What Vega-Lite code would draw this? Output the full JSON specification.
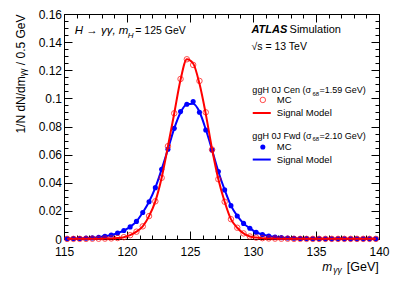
{
  "$schema": "https://vega.github.io/schema/vega-lite/v6.json",
  "width": 315,
  "height": 225,
  "autosize": "none",
  "padding": {"left": 64, "top": 14, "right": 20, "bottom": 47},
  "background": "white",
  "config": {
    "view": {"stroke": null},
    "font": "Liberation Sans",
    "axis": {
      "grid": false, "domainColor": "#000", "tickColor": "#000", "labelColor": "#000", "titleColor": "#000",
      "labelFont": "Liberation Sans", "titleFont": "Liberation Sans", "labelFontSize": 12, "titleFontSize": 12,
      "titleFontWeight": "normal", "domainWidth": 1, "tickWidth": 1, "labelFlush": false, "labelOverlap": false, "labelBound": false
    },
    "text": {"font": "Liberation Sans", "color": "#000"}
  },
  "datasets": {
    "cen": [
      {"m": 115.25, "mc": 0.0001, "model": 0.0001}, {"m": 115.75, "mc": 0.0001, "model": 0.0001},
      {"m": 116.25, "mc": 0.0001, "model": 0.0001}, {"m": 116.75, "mc": 0.0001, "model": 0.0001},
      {"m": 117.25, "mc": 0.0002, "model": 0.0002}, {"m": 117.75, "mc": 0.0002, "model": 0.0002},
      {"m": 118.25, "mc": 0.0003, "model": 0.0003}, {"m": 118.75, "mc": 0.0004, "model": 0.0004},
      {"m": 119.25, "mc": 0.0007, "model": 0.0007}, {"m": 119.75, "mc": 0.0013, "model": 0.0013},
      {"m": 120.25, "mc": 0.0027, "model": 0.0027}, {"m": 120.75, "mc": 0.0052, "model": 0.0052},
      {"m": 121.25, "mc": 0.0090, "model": 0.0090}, {"m": 121.75, "mc": 0.0163, "model": 0.0163},
      {"m": 122.25, "mc": 0.0268, "model": 0.0268}, {"m": 122.75, "mc": 0.0435, "model": 0.0435},
      {"m": 123.25, "mc": 0.0660, "model": 0.0660}, {"m": 123.75, "mc": 0.0894, "model": 0.0894},
      {"m": 124.25, "mc": 0.1138, "model": 0.1132}, {"m": 124.75, "mc": 0.1278, "model": 0.1278},
      {"m": 125.25, "mc": 0.1238, "model": 0.1248}, {"m": 125.75, "mc": 0.1124, "model": 0.1105},
      {"m": 126.25, "mc": 0.0901, "model": 0.0890}, {"m": 126.75, "mc": 0.0636, "model": 0.0640},
      {"m": 127.25, "mc": 0.0425, "model": 0.0425}, {"m": 127.75, "mc": 0.0265, "model": 0.0265},
      {"m": 128.25, "mc": 0.0141, "model": 0.0141}, {"m": 128.75, "mc": 0.0080, "model": 0.0080},
      {"m": 129.25, "mc": 0.0040, "model": 0.0040}, {"m": 129.75, "mc": 0.0018, "model": 0.0018},
      {"m": 130.25, "mc": 0.0010, "model": 0.0010}, {"m": 130.75, "mc": 0.0006, "model": 0.0006},
      {"m": 131.25, "mc": 0.0004, "model": 0.0004}, {"m": 131.75, "mc": 0.0003, "model": 0.0003},
      {"m": 132.25, "mc": 0.0002, "model": 0.0002}, {"m": 132.75, "mc": 0.0002, "model": 0.0002},
      {"m": 133.25, "mc": 0.0001, "model": 0.0001}, {"m": 133.75, "mc": 0.0001, "model": 0.0001},
      {"m": 134.25, "mc": 0.0001, "model": 0.0001}, {"m": 134.75, "mc": 0.0001, "model": 0.0001},
      {"m": 135.25, "mc": 0.0001, "model": 0.0001}, {"m": 135.75, "mc": 0.0001, "model": 0.0001},
      {"m": 136.25, "mc": 0.0001, "model": 0.0001}, {"m": 136.75, "mc": 0.0001, "model": 0.0001},
      {"m": 137.25, "mc": 0.0001, "model": 0.0001}, {"m": 137.75, "mc": 0.0001, "model": 0.0001},
      {"m": 138.25, "mc": 0.0001, "model": 0.0001}, {"m": 138.75, "mc": 0.0001, "model": 0.0001},
      {"m": 139.25, "mc": 0.0001, "model": 0.0001}, {"m": 139.75, "mc": 0.0001, "model": 0.0001}
    ],
    "fwd": [
      {"m": 115.25, "mc": 0.0002, "model": 0.0002}, {"m": 115.75, "mc": 0.0003, "model": 0.0003},
      {"m": 116.25, "mc": 0.0004, "model": 0.0004}, {"m": 116.75, "mc": 0.0006, "model": 0.0006},
      {"m": 117.25, "mc": 0.0008, "model": 0.0008}, {"m": 117.75, "mc": 0.0012, "model": 0.0012},
      {"m": 118.25, "mc": 0.0019, "model": 0.0019}, {"m": 118.75, "mc": 0.0028, "model": 0.0028},
      {"m": 119.25, "mc": 0.0042, "model": 0.0042}, {"m": 119.75, "mc": 0.0060, "model": 0.0060},
      {"m": 120.25, "mc": 0.0086, "model": 0.0086}, {"m": 120.75, "mc": 0.0125, "model": 0.0125},
      {"m": 121.25, "mc": 0.0188, "model": 0.0188}, {"m": 121.75, "mc": 0.0265, "model": 0.0265},
      {"m": 122.25, "mc": 0.0365, "model": 0.0365}, {"m": 122.75, "mc": 0.0496, "model": 0.0496},
      {"m": 123.25, "mc": 0.0638, "model": 0.0638}, {"m": 123.75, "mc": 0.0787, "model": 0.0787},
      {"m": 124.25, "mc": 0.0906, "model": 0.0900}, {"m": 124.75, "mc": 0.0958, "model": 0.0958},
      {"m": 125.25, "mc": 0.0977, "model": 0.0962}, {"m": 125.75, "mc": 0.0901, "model": 0.0905},
      {"m": 126.25, "mc": 0.0775, "model": 0.0780}, {"m": 126.75, "mc": 0.0633, "model": 0.0633},
      {"m": 127.25, "mc": 0.0480, "model": 0.0480}, {"m": 127.75, "mc": 0.0349, "model": 0.0349},
      {"m": 128.25, "mc": 0.0237, "model": 0.0237}, {"m": 128.75, "mc": 0.0164, "model": 0.0164},
      {"m": 129.25, "mc": 0.0111, "model": 0.0111}, {"m": 129.75, "mc": 0.0076, "model": 0.0076},
      {"m": 130.25, "mc": 0.0048, "model": 0.0048}, {"m": 130.75, "mc": 0.0032, "model": 0.0032},
      {"m": 131.25, "mc": 0.0021, "model": 0.0021}, {"m": 131.75, "mc": 0.0014, "model": 0.0014},
      {"m": 132.25, "mc": 0.0010, "model": 0.0010}, {"m": 132.75, "mc": 0.0007, "model": 0.0007},
      {"m": 133.25, "mc": 0.0005, "model": 0.0005}, {"m": 133.75, "mc": 0.0004, "model": 0.0004},
      {"m": 134.25, "mc": 0.0003, "model": 0.0003}, {"m": 134.75, "mc": 0.0002, "model": 0.0002},
      {"m": 135.25, "mc": 0.0002, "model": 0.0002}, {"m": 135.75, "mc": 0.0001, "model": 0.0001},
      {"m": 136.25, "mc": 0.0001, "model": 0.0001}, {"m": 136.75, "mc": 0.0001, "model": 0.0001},
      {"m": 137.25, "mc": 0.0001, "model": 0.0001}, {"m": 137.75, "mc": 0.0001, "model": 0.0001},
      {"m": 138.25, "mc": 0.0001, "model": 0.0001}, {"m": 138.75, "mc": 0.0001, "model": 0.0001},
      {"m": 139.25, "mc": 0.0001, "model": 0.0001}, {"m": 139.75, "mc": 0.0001, "model": 0.0001}
    ]
  },
  "layer": [
    {
      "data": {"name": "fwd"},
      "mark": {"type": "line", "color": "#0000ff", "strokeWidth": 2, "interpolate": "monotone"},
      "encoding": {
        "x": {"field": "m", "type": "quantitative", "scale": {"domain": [115, 140], "nice": false, "zero": false},
          "axis": {"orient": "bottom", "values": [115, 120, 125, 130, 135, 140], "tickSize": -8, "labelPadding": 15.5, "title": null}},
        "y": {"field": "model", "type": "quantitative", "scale": {"domain": [0, 0.16], "nice": false, "zero": false},
          "axis": {"orient": "left", "values": [0, 0.02, 0.04, 0.06, 0.08, 0.1, 0.12, 0.14, 0.16], "format": "~g", "tickSize": -8, "labelPadding": 10.5,
            "title": "1/N dN/dmᵧᵧ / 0.5 GeV", "titleX": -44, "titleY": 0, "titleAngle": 270, "titleAlign": "right", "titleBaseline": "middle"}}
      }
    },
    {
      "data": {"name": "fwd"},
      "mark": {"type": "circle", "color": "#0000ff", "size": 26, "opacity": 1},
      "encoding": {
        "x": {"field": "m", "type": "quantitative",
          "axis": {"orient": "bottom", "values": [115,116,117,118,119,120,121,122,123,124,125,126,127,128,129,130,131,132,133,134,135,136,137,138,139,140], "tickSize": -4, "labels": false, "domain": false, "title": null}},
        "y": {"field": "mc", "type": "quantitative",
          "axis": {"orient": "left", "values": [0,0.005,0.01,0.015,0.02,0.025,0.03,0.035,0.04,0.045,0.05,0.055,0.06,0.065,0.07,0.075,0.08,0.085,0.09,0.095,0.1,0.105,0.11,0.115,0.12,0.125,0.13,0.135,0.14,0.145,0.15,0.155,0.16], "tickSize": -4, "labels": false, "domain": false, "title": null}}
      }
    },
    {
      "data": {"name": "cen"},
      "mark": {"type": "line", "color": "#ff0000", "strokeWidth": 2, "interpolate": "monotone"},
      "encoding": {
        "x": {"field": "m", "type": "quantitative",
          "axis": {"orient": "top", "values": [115, 120, 125, 130, 135, 140], "tickSize": -8, "labels": false, "title": null}},
        "y": {"field": "model", "type": "quantitative",
          "axis": {"orient": "right", "values": [0, 0.02, 0.04, 0.06, 0.08, 0.1, 0.12, 0.14, 0.16], "tickSize": -8, "labels": false, "title": null}}
      }
    },
    {
      "data": {"name": "cen"},
      "mark": {"type": "point", "shape": "circle", "filled": false, "stroke": "#ff0000", "strokeWidth": 1, "size": 30},
      "encoding": {
        "x": {"field": "m", "type": "quantitative",
          "axis": {"orient": "top", "values": [115,116,117,118,119,120,121,122,123,124,125,126,127,128,129,130,131,132,133,134,135,136,137,138,139,140], "tickSize": -4, "labels": false, "domain": false, "title": null}},
        "y": {"field": "mc", "type": "quantitative",
          "axis": {"orient": "right", "values": [0,0.005,0.01,0.015,0.02,0.025,0.03,0.035,0.04,0.045,0.05,0.055,0.06,0.065,0.07,0.075,0.08,0.085,0.09,0.095,0.1,0.105,0.11,0.115,0.12,0.125,0.13,0.135,0.14,0.145,0.15,0.155,0.16], "tickSize": -4, "labels": false, "domain": false, "title": null}}
      }
    },
    {
      "data": {"values": [{}]},
      "mark": {"type": "text", "text": "m", "fontStyle": "italic", "fontSize": 12, "align": "left", "baseline": "middle"},
      "encoding": {"x": {"datum": 135.5, "type": "quantitative", "axis": null}, "y": {"datum": -0.0196, "type": "quantitative", "axis": null}}
    },
    {
      "data": {"values": [{}]},
      "mark": {"type": "text", "text": "γγ", "fontStyle": "italic", "fontSize": 8.5, "align": "left", "baseline": "middle"},
      "encoding": {"x": {"datum": 136.37, "type": "quantitative", "axis": null}, "y": {"datum": -0.0222, "type": "quantitative", "axis": null}}
    },
    {
      "data": {"values": [{}]},
      "mark": {"type": "text", "text": "[GeV]", "fontSize": 12.5, "align": "right", "baseline": "middle"},
      "encoding": {"x": {"datum": 139.98, "type": "quantitative", "axis": null}, "y": {"datum": -0.0196, "type": "quantitative", "axis": null}}
    },
    {
      "data": {"values": [{}]},
      "mark": {"type": "text", "text": "H → γγ, m", "fontStyle": "italic", "fontSize": 11.5, "align": "left", "baseline": "middle"},
      "encoding": {"x": {"datum": 115.85, "type": "quantitative", "axis": null}, "y": {"datum": 0.1479, "type": "quantitative", "axis": null}}
    },
    {
      "data": {"values": [{}]},
      "mark": {"type": "text", "text": "H", "fontStyle": "italic", "fontSize": 8, "align": "left", "baseline": "middle"},
      "encoding": {"x": {"datum": 120.06, "type": "quantitative", "axis": null}, "y": {"datum": 0.1447, "type": "quantitative", "axis": null}}
    },
    {
      "data": {"values": [{}]},
      "mark": {"type": "text", "text": "= 125 GeV", "fontSize": 10.5, "align": "left", "baseline": "middle"},
      "encoding": {"x": {"datum": 120.66, "type": "quantitative", "axis": null}, "y": {"datum": 0.1479, "type": "quantitative", "axis": null}}
    },
    {
      "data": {"values": [{}]},
      "mark": {"type": "text", "text": "ATLAS", "fontStyle": "italic", "fontWeight": "bold", "fontSize": 11, "align": "left", "baseline": "middle"},
      "encoding": {"x": {"datum": 129.88, "type": "quantitative", "axis": null}, "y": {"datum": 0.1486, "type": "quantitative", "axis": null}}
    },
    {
      "data": {"values": [{}]},
      "mark": {"type": "text", "text": "Simulation", "fontSize": 11, "align": "left", "baseline": "middle"},
      "encoding": {"x": {"datum": 132.9, "type": "quantitative", "axis": null}, "y": {"datum": 0.1486, "type": "quantitative", "axis": null}}
    },
    {
      "data": {"values": [{}]},
      "mark": {"type": "text", "text": "√s = 13 TeV", "fontSize": 10.5, "align": "left", "baseline": "middle"},
      "encoding": {"x": {"datum": 129.88, "type": "quantitative", "axis": null}, "y": {"datum": 0.1368, "type": "quantitative", "axis": null}}
    },
    {
      "data": {"values": [{}]},
      "mark": {"type": "text", "text": "ggH 0J Cen (σ", "fontSize": 9, "align": "left", "baseline": "middle"},
      "encoding": {"x": {"datum": 129.95, "type": "quantitative", "axis": null}, "y": {"datum": 0.106, "type": "quantitative", "axis": null}}
    },
    {
      "data": {"values": [{}]},
      "mark": {"type": "text", "text": "68", "fontSize": 6, "align": "left", "baseline": "middle"},
      "encoding": {"x": {"datum": 134.72, "type": "quantitative", "axis": null}, "y": {"datum": 0.1033, "type": "quantitative", "axis": null}}
    },
    {
      "data": {"values": [{}]},
      "mark": {"type": "text", "text": "=1.59 GeV)", "fontSize": 9, "align": "left", "baseline": "middle"},
      "encoding": {"x": {"datum": 135.27, "type": "quantitative", "axis": null}, "y": {"datum": 0.106, "type": "quantitative", "axis": null}}
    },
    {
      "data": {"values": [{}]},
      "mark": {"type": "point", "shape": "circle", "filled": false, "stroke": "#ff0000", "strokeWidth": 1, "size": 30},
      "encoding": {"x": {"datum": 130.78, "type": "quantitative", "axis": null}, "y": {"datum": 0.0989, "type": "quantitative", "axis": null}}
    },
    {
      "data": {"values": [{}]},
      "mark": {"type": "text", "text": "MC", "fontSize": 9.5, "align": "left", "baseline": "middle"},
      "encoding": {"x": {"datum": 131.89, "type": "quantitative", "axis": null}, "y": {"datum": 0.0989, "type": "quantitative", "axis": null}}
    },
    {
      "data": {"values": [{}]},
      "mark": {"type": "rule", "color": "#ff0000", "strokeWidth": 2},
      "encoding": {"x": {"datum": 129.98, "type": "quantitative", "axis": null}, "x2": {"datum": 131.41}, "y": {"datum": 0.0896, "type": "quantitative", "axis": null}}
    },
    {
      "data": {"values": [{}]},
      "mark": {"type": "text", "text": "Signal Model", "fontSize": 9.5, "align": "left", "baseline": "middle"},
      "encoding": {"x": {"datum": 131.89, "type": "quantitative", "axis": null}, "y": {"datum": 0.0896, "type": "quantitative", "axis": null}}
    },
    {
      "data": {"values": [{}]},
      "mark": {"type": "text", "text": "ggH 0J Fwd (σ", "fontSize": 9, "align": "left", "baseline": "middle"},
      "encoding": {"x": {"datum": 129.95, "type": "quantitative", "axis": null}, "y": {"datum": 0.0735, "type": "quantitative", "axis": null}}
    },
    {
      "data": {"values": [{}]},
      "mark": {"type": "text", "text": "68", "fontSize": 6, "align": "left", "baseline": "middle"},
      "encoding": {"x": {"datum": 134.72, "type": "quantitative", "axis": null}, "y": {"datum": 0.0708, "type": "quantitative", "axis": null}}
    },
    {
      "data": {"values": [{}]},
      "mark": {"type": "text", "text": "=2.10 GeV)", "fontSize": 9, "align": "left", "baseline": "middle"},
      "encoding": {"x": {"datum": 135.27, "type": "quantitative", "axis": null}, "y": {"datum": 0.0735, "type": "quantitative", "axis": null}}
    },
    {
      "data": {"values": [{}]},
      "mark": {"type": "circle", "color": "#0000ff", "size": 26, "opacity": 1},
      "encoding": {"x": {"datum": 130.78, "type": "quantitative", "axis": null}, "y": {"datum": 0.0654, "type": "quantitative", "axis": null}}
    },
    {
      "data": {"values": [{}]},
      "mark": {"type": "text", "text": "MC", "fontSize": 9.5, "align": "left", "baseline": "middle"},
      "encoding": {"x": {"datum": 131.89, "type": "quantitative", "axis": null}, "y": {"datum": 0.0654, "type": "quantitative", "axis": null}}
    },
    {
      "data": {"values": [{}]},
      "mark": {"type": "rule", "color": "#0000ff", "strokeWidth": 2},
      "encoding": {"x": {"datum": 129.98, "type": "quantitative", "axis": null}, "x2": {"datum": 131.41}, "y": {"datum": 0.0565, "type": "quantitative", "axis": null}}
    },
    {
      "data": {"values": [{}]},
      "mark": {"type": "text", "text": "Signal Model", "fontSize": 9.5, "align": "left", "baseline": "middle"},
      "encoding": {"x": {"datum": 131.89, "type": "quantitative", "axis": null}, "y": {"datum": 0.0565, "type": "quantitative", "axis": null}}
    }
  ],
  "resolve": {"axis": {"x": "independent", "y": "independent"}}
}
